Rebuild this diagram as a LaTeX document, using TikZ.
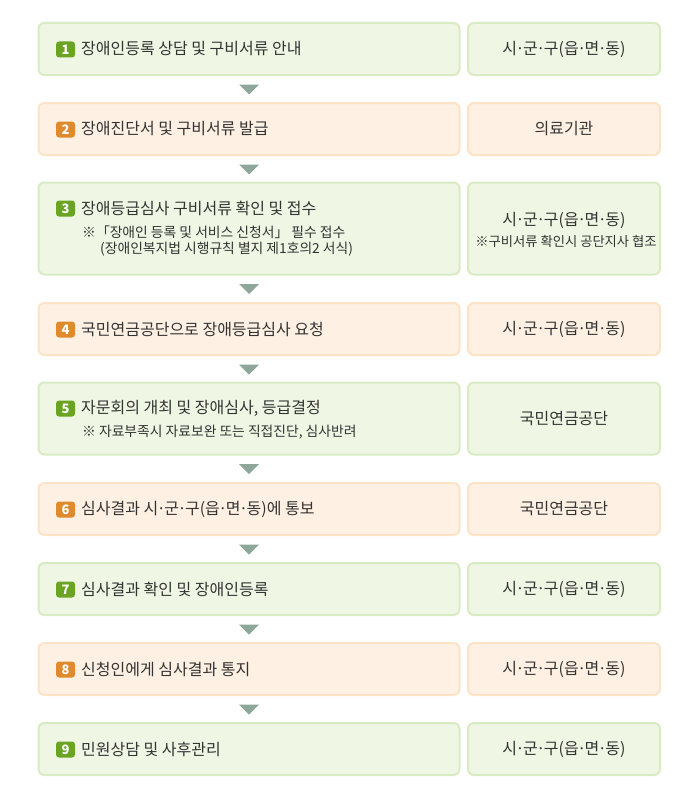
\documentclass[tikz,border=0pt]{standalone}
\usepackage{fontspec}
\setmainfont{Noto Sans CJK KR}
\usetikzlibrary{calc}
\definecolor{gfill}{HTML}{EFF7E4}
\definecolor{gline}{HTML}{D8EBC2}
\definecolor{ofill}{HTML}{FEF1E3}
\definecolor{oline}{HTML}{FCE3C6}
\definecolor{gbadge}{HTML}{6BA323}
\definecolor{obadge}{HTML}{DF8B2D}
\definecolor{txt}{HTML}{333333}
\definecolor{arr}{HTML}{8FA69A}
\newcommand{\md}{\makebox[6pt][c]{·}}
\tikzset{
  box/.style={draw, line width=2pt, rounded corners=6pt, inner sep=0pt},
  lbox/.style={box, minimum width=421pt},
  rbox/.style={box, minimum width=192pt, align=center, text=txt},
  gbox/.style={fill=gfill, draw=gline},
  obox/.style={fill=ofill, draw=oline},
  badge/.style={rounded corners=3pt, minimum width=19pt, minimum height=16pt, inner sep=0pt, text=white, font=\fontsize{13}{13}\selectfont\bfseries},
  gbadgest/.style={badge, fill=gbadge},
  obadgest/.style={badge, fill=obadge},
  maintxt/.style={anchor=west, text=txt, font=\fontsize{16}{18}\selectfont, inner sep=0pt},
  subtxt/.style={anchor=west, text=txt, font=\fontsize{13.8}{15}\selectfont, inner sep=0pt},
  rtxt/.style={text=txt, font=\fontsize{16}{18}\selectfont, inner sep=0pt},
  rsub/.style={text=txt, font=\fontsize{13.3}{15}\selectfont, inner sep=0pt},
  tri/.style={fill=arr}
}
\newcommand{\downtri}[1]{\fill[tri] ($(#1.south)+(-10,8.5)$) -- ($(#1.south)+(10,8.5)$) -- ($(#1.south)+(0,18.5)$) -- cycle;}
\newcommand{\sgg}{시\md 군\md 구(읍\md 면\md 동)}
\begin{document}
\begin{tikzpicture}[x=1pt,y=-1pt]
\useasboundingbox (0,0) rectangle (700,800);
% row 1
\node[lbox,gbox,minimum height=52pt] (L1) at (249,49) {};
\node[rbox,gbox,minimum height=52pt] (R1) at (564,49) {};
\node[gbadgest] (B1) at (65.5,49.5) {1};
\node[maintxt] (T1) at (81,49) {장애인등록 상담 및 구비서류 안내};
\node[rtxt] (S1) at (564,49) {\sgg};
\downtri{L1}
% row 2
\node[lbox,obox,minimum height=52pt] (L2) at (249,129) {};
\node[rbox,obox,minimum height=52pt] (R2) at (564,129) {};
\node[obadgest] (B2) at (65.5,129.5) {2};
\node[maintxt] (T2) at (81,129) {장애진단서 및 구비서류 발급};
\node[rtxt] (S2) at (564,129) {의료기관};
\downtri{L2}
% row 3
\node[lbox,gbox,minimum height=92pt] (L3) at (249,228.5) {};
\node[rbox,gbox,minimum height=92pt] (R3) at (564,228.5) {};
\node[gbadgest] (B3) at (65.5,208.5) {3};
\node[maintxt] (T3) at (81,208) {장애등급심사 구비서류 확인 및 접수};
\node[subtxt] (U3a) at (82,232) {※「장애인 등록 및 서비스 신청서」 필수 접수};
\node[subtxt] (U3b) at (100,249) {(장애인복지법 시행규칙 별지 제1호의2 서식)};
\node[rtxt] (S3) at (564,220) {\sgg};
\node[rsub] (S3b) at (566,241) {※구비서류 확인시 공단지사 협조};
\downtri{L3}
% row 4
\node[lbox,obox,minimum height=52pt] (L4) at (249,329) {};
\node[rbox,obox,minimum height=52pt] (R4) at (564,329) {};
\node[obadgest] (B4) at (65.5,329.5) {4};
\node[maintxt] (T4) at (81,329) {국민연금공단으로 장애등급심사 요청};
\node[rtxt] (S4) at (564,329) {\sgg};
\downtri{L4}
% row 5
\node[lbox,gbox,minimum height=72pt] (L5) at (249,418.5) {};
\node[rbox,gbox,minimum height=72pt] (R5) at (564,418.5) {};
\node[gbadgest] (B5) at (65.5,408.5) {5};
\node[maintxt] (T5) at (81,408) {자문회의 개최 및 장애심사, 등급결정};
\node[subtxt] (U5) at (82,432) {※ 자료부족시 자료보완 또는 직접진단, 심사반려};
\node[rtxt] (S5) at (564,418.5) {국민연금공단};
\downtri{L5}
% row 6
\node[lbox,obox,minimum height=52pt] (L6) at (249,509) {};
\node[rbox,obox,minimum height=52pt] (R6) at (564,509) {};
\node[obadgest] (B6) at (65.5,509.5) {6};
\node[maintxt] (T6) at (81,509) {심사결과 \sgg 에 통보};
\node[rtxt] (S6) at (564,509) {국민연금공단};
\downtri{L6}
% row 7
\node[lbox,gbox,minimum height=52pt] (L7) at (249,589) {};
\node[rbox,gbox,minimum height=52pt] (R7) at (564,589) {};
\node[gbadgest] (B7) at (65.5,589.5) {7};
\node[maintxt] (T7) at (81,589) {심사결과 확인 및 장애인등록};
\node[rtxt] (S7) at (564,589) {\sgg};
\downtri{L7}
% row 8
\node[lbox,obox,minimum height=52pt] (L8) at (249,669) {};
\node[rbox,obox,minimum height=52pt] (R8) at (564,669) {};
\node[obadgest] (B8) at (65.5,669.5) {8};
\node[maintxt] (T8) at (81,669) {신청인에게 심사결과 통지};
\node[rtxt] (S8) at (564,669) {\sgg};
\downtri{L8}
% row 9
\node[lbox,gbox,minimum height=52pt] (L9) at (249,749) {};
\node[rbox,gbox,minimum height=52pt] (R9) at (564,749) {};
\node[gbadgest] (B9) at (65.5,749.5) {9};
\node[maintxt] (T9) at (81,749) {민원상담 및 사후관리};
\node[rtxt] (S9) at (564,749) {\sgg};
\end{tikzpicture}
\end{document}
